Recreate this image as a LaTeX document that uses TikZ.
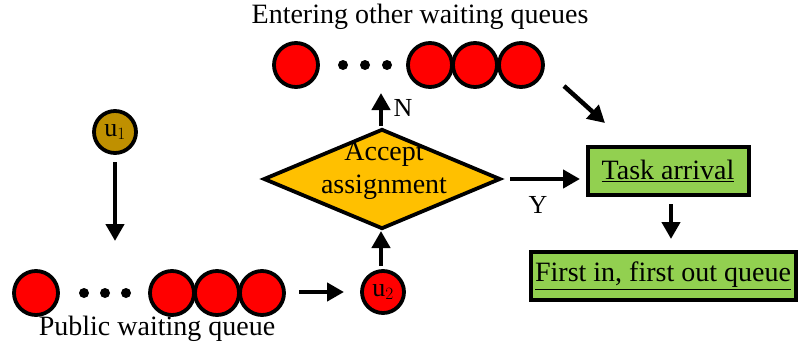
\documentclass[tikz,border=0pt]{standalone}
\usepackage{fontspec}
\setmainfont{Liberation Serif}
\usetikzlibrary{shapes.geometric,arrows.meta}
\definecolor{ball}{RGB}{255,0,0}
\definecolor{gold}{RGB}{191,144,0}
\definecolor{amber}{RGB}{255,192,0}
\definecolor{leaf}{RGB}{146,208,80}
\tikzset{
  ball/.style={circle,draw=black,line width=3.8pt,fill=ball,minimum size=44pt,inner sep=0pt},
  dot/.style={circle,fill=black,minimum size=10pt,inner sep=0pt},
  user/.style={circle,draw=black,line width=3.8pt,minimum size=42pt,inner sep=0pt,font=\fontsize{26}{28}\selectfont},
  flow/.style={line width=4.5pt,-{Triangle[length=17pt,width=18pt]}},
  greenbox/.style={draw=black,line width=4pt,fill=leaf,minimum height=48pt,inner sep=4pt,font=\fontsize{28}{30}\selectfont},
  lbl/.style={font=\fontsize{28}{30}\selectfont},
}
\newcommand{\uline}[1]{\underline{#1}}
\begin{document}
\begin{tikzpicture}[x=1pt,y=-1pt]
\useasboundingbox (0,0) rectangle (799,353);
% public waiting queue
\node[ball] (p0) at (36,293) {};
\node[dot] (pd1) at (84,293) {};
\node[dot] (pd2) at (105,293) {};
\node[dot] (pd3) at (126,293) {};
\node[ball] (p1) at (172,293) {};
\node[ball] (p2) at (217,293) {};
\node[ball] (p3) at (262,293) {};
\node[lbl] (plab) at (157,329) {Public waiting queue};
% users
\node[user,fill=gold] (u1) at (115,132) {u$_1$};
\node[user,fill=ball] (u2) at (383,292) {u$_2$};
% other waiting queues
\node[ball] (q0) at (296,65) {};
\node[dot] (qd1) at (343,65) {};
\node[dot] (qd2) at (365,65) {};
\node[dot] (qd3) at (387,65) {};
\node[ball] (q1) at (430,65) {};
\node[ball] (q2) at (475,65) {};
\node[ball] (q3) at (521,65) {};
\node[lbl] (qlab) at (420,17) {Entering other waiting queues};
% decision
\node[diamond,draw=black,line width=3.8pt,fill=amber,minimum width=237pt,minimum height=100pt,inner sep=0pt,aspect=2.34] (dec) at (382,179) {};
\node[align=center,font=\fontsize{28}{33}\selectfont] (dtext) at (384,171) {Accept\\assignment};
% result boxes
\node[greenbox,minimum width=161pt] (task) at (668,171) {\uline{Task arrival}};
\node[greenbox,minimum width=265pt] (fifo) at (663,276) {\uline{First in, first out queue}};
% connectors
\coordinate (a1s) at (115,162);
\coordinate (a1e) at (115,241);
\draw[flow] (a1s) -- (a1e);
\coordinate (a2s) at (299,292);
\coordinate (a2e) at (344,292);
\draw[flow] (a2s) -- (a2e);
\coordinate (us) at (381,266);
\coordinate (ue) at (381,231);
\draw[flow] (us) -- (ue);
\coordinate (ns) at (381,126);
\coordinate (ne) at (381,93);
\draw[flow] (ns) -- (ne);
\node[lbl,font=\fontsize{26}{28}\selectfont] (nlab) at (403,108) {N};
\coordinate (ys) at (510,179);
\coordinate (ye) at (580,179);
\draw[flow] (ys) -- (ye);
\node[lbl,font=\fontsize{26}{28}\selectfont] (ylab) at (538,205) {Y};
\coordinate (ds) at (564,86);
\coordinate (de) at (605,123);
\draw[flow] (ds) -- (de);
\coordinate (ts) at (671,204);
\coordinate (te) at (671,239);
\draw[flow] (ts) -- (te);
\end{tikzpicture}
\end{document}
